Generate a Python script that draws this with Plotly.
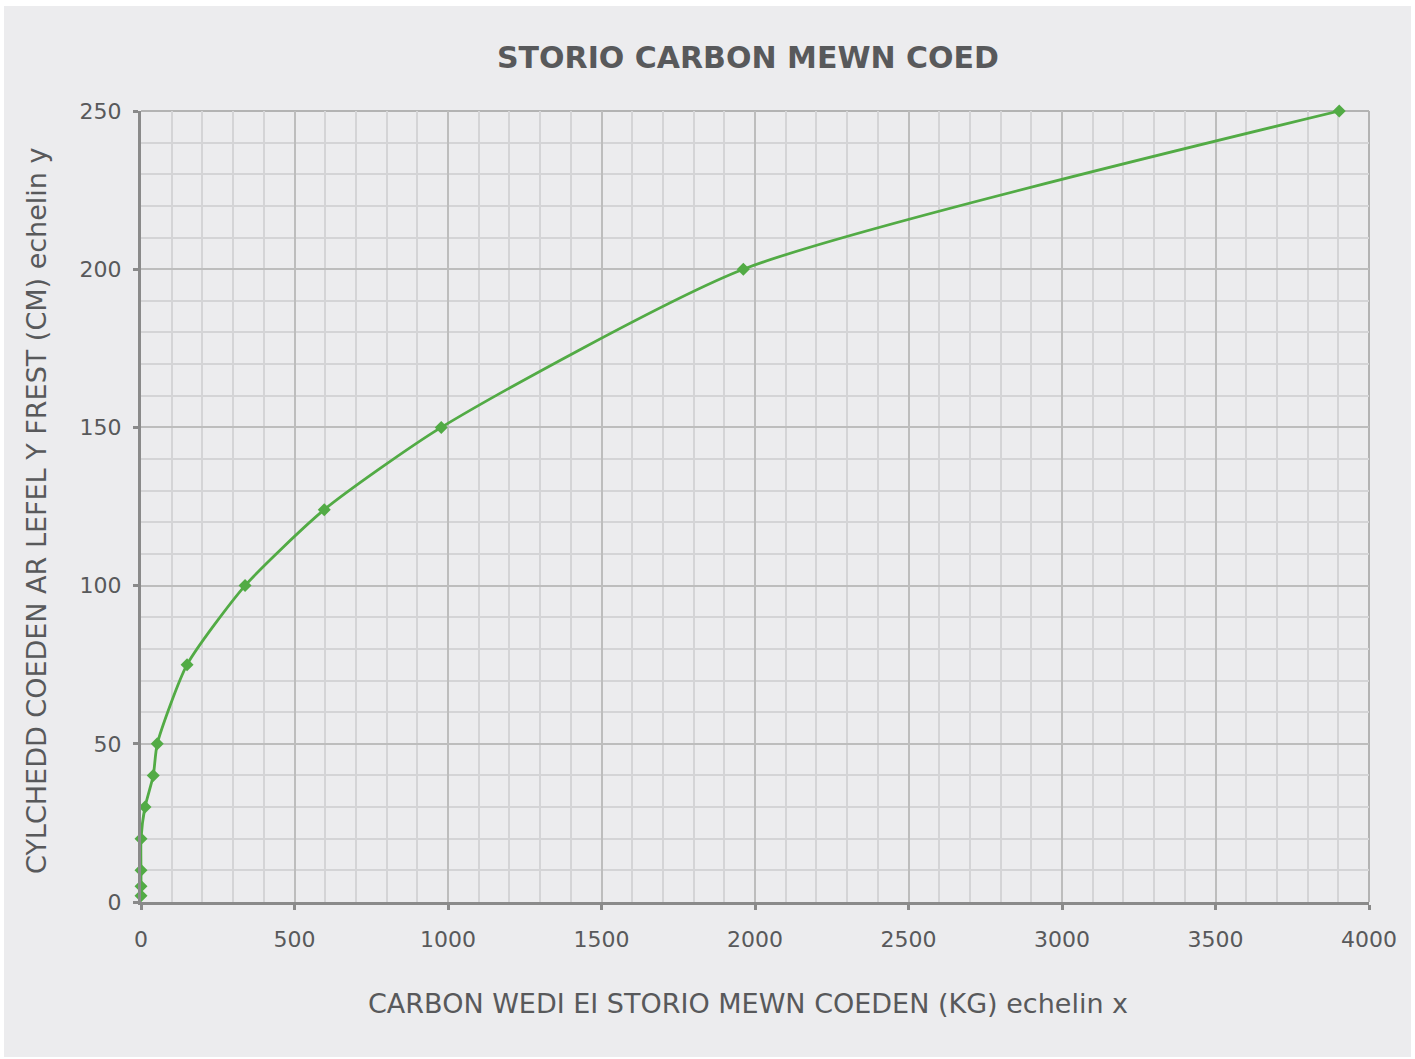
import plotly.graph_objects as go

carbon_kg = [0, 0, 0, 0, 13, 40, 53, 150, 339, 597, 978, 1962, 3903]
circumference_cm = [2, 5, 10, 20, 30, 40, 50, 75, 100, 124, 150, 200, 250]
x_ticks = [0, 500, 1000, 1500, 2000, 2500, 3000, 3500, 4000]
y_ticks = [0, 50, 100, 150, 200, 250]

title_text = "STORIO CARBON MEWN COED"
x_title = "CARBON WEDI EI STORIO MEWN COEDEN (KG) echelin x"
y_title = "CYLCHEDD COEDEN AR LEFEL Y FREST (CM) echelin y"

W, H = 1415, 1059
L, R, T, B = 141, 46, 111, 157
pw, ph = W - L - R, H - T - B

def px(xp):
    return (xp - L) / pw

def py(yp):
    return (H - B - yp) / ph

FONT = "DejaVu Sans"
GREEN = "#52AB45"
TXT = "#58595B"

fig = go.Figure()
fig.add_trace(go.Scatter(
    x=carbon_kg, y=circumference_cm, mode="lines+markers",
    line=dict(color=GREEN, width=2.8, shape="spline", smoothing=0.6),
    marker=dict(symbol="diamond", size=10, color=GREEN),
    cliponaxis=False, hoverinfo="x+y", showlegend=False,
))

axis_common = dict(
    showline=True, linecolor="#8A8A8A", linewidth=3,
    ticks="outside", ticklen=5, tickwidth=3, tickcolor="#8A8A8A",
    showgrid=True, gridcolor="#BDBDBD", gridwidth=1.5,
    zeroline=False, tickfont=dict(family=FONT, size=22, color=TXT),
)

fig.update_xaxes(
    range=[0, 4000], tickvals=x_ticks, ticktext=[str(v) for v in x_ticks],
    minor=dict(dtick=100, showgrid=True, gridcolor="#D4D4D6", gridwidth=1.5, ticks=""),
    ticklabelstandoff=11, **axis_common,
)
fig.update_yaxes(
    range=[0, 250], tickvals=y_ticks, ticktext=[str(v) for v in y_ticks],
    minor=dict(dtick=10, showgrid=True, gridcolor="#D4D4D6", gridwidth=1.5, ticks=""),
    ticklabelstandoff=7, **axis_common,
)

shapes = [
    dict(type="rect", xref="paper", yref="paper", x0=px(4), x1=px(1411), y0=py(1057), y1=py(6),
         fillcolor="#ECECEE", line=dict(width=0), layer="below"),
    dict(type="line", xref="paper", yref="paper", x0=0, x1=1, y0=1, y1=1,
         line=dict(color="#B3B3B3", width=2), layer="below"),
    dict(type="line", xref="paper", yref="paper", x0=1, x1=1, y0=0, y1=1,
         line=dict(color="#B3B3B3", width=2), layer="below"),
]

annotations = [
    dict(text=title_text, xref="paper", yref="paper", x=px(748), y=py(58),
         showarrow=False, xanchor="center", yanchor="middle",
         font=dict(family=FONT, size=30, color=TXT, weight="bold")),
    dict(text=x_title, xref="paper", yref="paper", x=px(748), y=py(1003),
         showarrow=False, xanchor="center", yanchor="middle",
         font=dict(family=FONT, size=27, color=TXT)),
    dict(text=y_title, xref="paper", yref="paper", x=px(36), y=py(511),
         showarrow=False, xanchor="center", yanchor="middle", textangle=-90,
         font=dict(family=FONT, size=27, color=TXT)),
]

fig.update_layout(
    width=W, height=H,
    margin=dict(l=L, r=R, t=T, b=B, pad=0),
    paper_bgcolor="white", plot_bgcolor="rgba(0,0,0,0)",
    shapes=shapes, annotations=annotations,
    font=dict(family=FONT, color=TXT),
)

fig.write_html("out.html", config={"displayModeBar": False},
               post_script="document.body.style.margin='0';")
